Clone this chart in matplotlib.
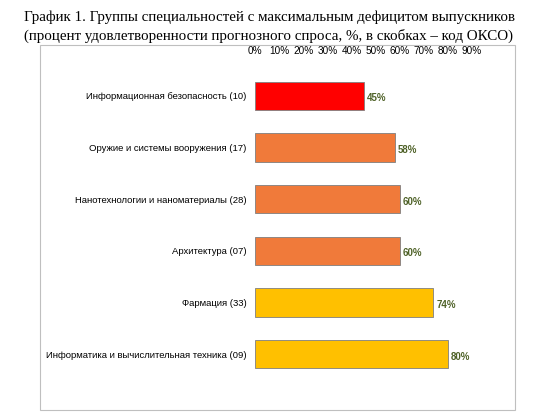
import matplotlib.pyplot as plt
from matplotlib.patches import Rectangle

categories = [
    "Информационная безопасность (10)",
    "Оружие и системы вооружения (17)",
    "Нанотехнологии и наноматериалы (28)",
    "Архитектура (07)",
    "Фармация (33)",
    "Информатика и вычислительная техника (09)",
]
values = [45, 58, 60, 60, 74, 80]
colors = ["#ff0000", "#f07a3a", "#f07a3a", "#f07a3a", "#ffc000", "#ffc000"]
ticks = list(range(0, 91, 10))

fig = plt.figure(figsize=(5.38, 4.16), dpi=100)
fig.text(0.5, 0.975, "График 1. Группы специальностей с максимальным дефицитом выпускников",
         ha="center", va="top", fontsize=10.8, family="Liberation Serif")
fig.text(0.5, 0.93, "(процент удовлетворенности прогнозного спроса, %, в скобках – код ОКСО)",
         ha="center", va="top", fontsize=10.8, family="Liberation Serif")
fig.add_artist(Rectangle((40 / 538, 1 - 410 / 416), 475 / 538, 365 / 416,
                         transform=fig.transFigure, fill=False, edgecolor="#bfbfbf", lw=0.8))

ax = fig.add_axes([255 / 538, 1 - 380 / 416, 217 / 538, 310 / 416])
y = list(range(len(categories)))
ax.barh(y, values, height=0.55, color=colors, edgecolor="#7f7f7f", lw=0.6)
for yi, v in zip(y, values):
    ax.text(v + 1.2, yi + 0.05, f"{v}%", va="center", ha="left", fontsize=7,
            fontweight="bold", color="#4f6228", family="Liberation Sans")
ax.set_yticks(y)
ax.set_yticklabels(categories, fontsize=6.8, family="Liberation Sans")
ax.set_ylim(len(categories) - 0.5, -0.5)
ax.set_xlim(0, 90)
ax.set_xticks(ticks)
ax.set_xticklabels([f"{t}%" for t in ticks], fontsize=7.2, family="Liberation Sans")
ax.xaxis.tick_top()
ax.tick_params(length=0, pad=10)
ax.tick_params(axis="y", pad=6)
for s in ax.spines.values():
    s.set_visible(False)
fig.savefig("out.png", dpi=100)
